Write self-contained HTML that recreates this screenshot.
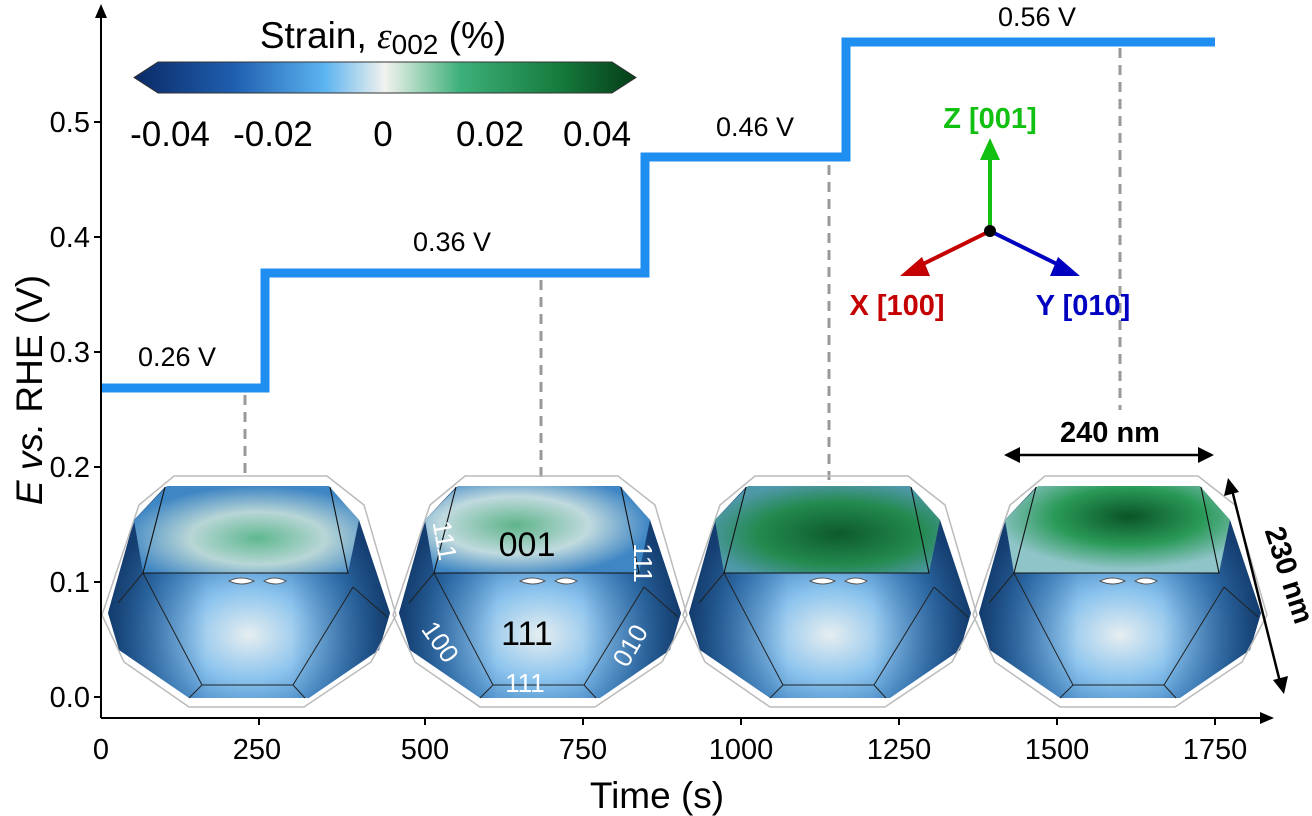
<!DOCTYPE html>
<html><head><meta charset="utf-8"><style>
body{margin:0;background:#fff}
svg{display:block;font-family:"Liberation Sans",sans-serif}
</style></head><body>
<svg width="1312" height="816" viewBox="0 0 1312 816" xmlns="http://www.w3.org/2000/svg">
<defs>
<linearGradient id="cb" x1="0" x2="1" y1="0" y2="0">
<stop offset="0" stop-color="#0b2a66"/><stop offset="0.2" stop-color="#1f5fb0"/>
<stop offset="0.38" stop-color="#5cb4f0"/><stop offset="0.5" stop-color="#f2f2ee"/>
<stop offset="0.65" stop-color="#3db07a"/><stop offset="0.85" stop-color="#157a3c"/>
<stop offset="1" stop-color="#053d18"/></linearGradient>
<radialGradient id="low" cx="0.5" cy="0.7" r="0.6">
<stop offset="0" stop-color="#e6eef0"/><stop offset="0.35" stop-color="#8cc4ee"/>
<stop offset="0.7" stop-color="#3a80c0"/><stop offset="1" stop-color="#163e72"/></radialGradient>
<linearGradient id="side" x1="0" x2="1" y1="0" y2="0">
<stop offset="0" stop-color="#0f3564" stop-opacity="0.85"/><stop offset="0.22" stop-color="#1a4a80" stop-opacity="0.3"/>
<stop offset="0.35" stop-color="#1a4a80" stop-opacity="0"/><stop offset="0.65" stop-color="#1a4a80" stop-opacity="0"/>
<stop offset="0.78" stop-color="#1a4a80" stop-opacity="0.3"/><stop offset="1" stop-color="#0f3564" stop-opacity="0.85"/></linearGradient>
<radialGradient id="topA" cx="0.55" cy="0.6" r="0.6">
<stop offset="0" stop-color="#5fb890"/><stop offset="0.5" stop-color="#b8d6d6"/><stop offset="1" stop-color="#3f86c4"/></radialGradient>
<radialGradient id="topB" cx="0.4" cy="0.45" r="0.6">
<stop offset="0" stop-color="#5eb48a"/><stop offset="0.55" stop-color="#c0dade"/><stop offset="1" stop-color="#3f86c4"/></radialGradient>
<radialGradient id="topC" cx="0.55" cy="0.55" r="0.6">
<stop offset="0" stop-color="#0d5a2c"/><stop offset="0.6" stop-color="#238a4e"/><stop offset="1" stop-color="#4f98a8"/></radialGradient>
<radialGradient id="topD" cx="0.55" cy="0.35" r="0.6">
<stop offset="0" stop-color="#0a5426"/><stop offset="0.55" stop-color="#2a9a58"/><stop offset="1" stop-color="#8fc4c8"/></radialGradient>
<g id="xt">
<polygon points="-84,487 80,487 110,520 141,613 130,650 60,698 -60,698 -130,650 -141,613 -115,520" fill="url(#low)"/>
<polygon points="-84,487 80,487 110,520 141,613 130,650 60,698 -60,698 -130,650 -141,613 -115,520" fill="url(#side)"/>
<polygon points="-75,476 78,476 115,505 147,615 122,662 55,707 -60,707 -125,662 -147,615 -110,505" fill="none" stroke="#bbb" stroke-width="1.5"/>
<g fill="none" stroke="#222" stroke-width="1">
<polyline points="-106,573 -47,685 44,685 104,587"/>
<line x1="-106" y1="573" x2="-131" y2="603"/><line x1="104" y1="587" x2="138" y2="617"/>
<line x1="-47" y1="685" x2="-60" y2="698"/><line x1="44" y1="685" x2="56" y2="698"/>
</g>
<path d="M-20,581 q12,-6 25,0 q-12,6 -25,0z M15,581 q10,-6 22,0 q-10,6 -22,0z" fill="#fff" stroke="#555" stroke-width="1"/>
</g>
</defs>
<!-- dashed -->
<g stroke="#999" stroke-width="3" stroke-dasharray="10,7">
<line x1="245" y1="395" x2="245" y2="480"/><line x1="541" y1="280" x2="541" y2="480"/>
<line x1="829" y1="165" x2="829" y2="480"/><line x1="1120" y1="48" x2="1120" y2="410"/></g>
<!-- step -->
<polyline points="101,388 265,388 265,273 645,273 645,157 846,157 846,42 1215,42" fill="none" stroke="#1e8ff0" stroke-width="9"/>
<g font-size="27" text-anchor="middle"><text x="177" y="366">0.26 V</text><text x="452" y="251">0.36 V</text><text x="755" y="136">0.46 V</text><text x="1037" y="26">0.56 V</text></g>
<!-- crystals -->
<use href="#xt" x="249"/><use href="#xt" x="540"/><use href="#xt" x="830"/><use href="#xt" x="1120"/>
<g>
<polygon points="167,486 329,486 359,520 348,573 143,573 134,520" fill="url(#topA)"/>
<polygon points="458,486 620,486 650,520 639,573 434,573 425,520" fill="url(#topB)"/>
<polygon points="748,486 910,486 940,520 929,573 724,573 715,520" fill="url(#topC)"/>
<polygon points="1038,486 1200,486 1230,520 1219,573 1014,573 1005,520" fill="url(#topD)"/>
</g>
<g stroke="#111" stroke-width="1.1" fill="none">
<polyline points="165,487 143,573 348,573 330,487"/>
<polyline points="456,487 434,573 639,573 621,487"/>
<polyline points="746,487 724,573 929,573 911,487"/>
<polyline points="1036,487 1014,573 1219,573 1201,487"/>
</g>
<g font-size="34" text-anchor="middle"><text x="527" y="556">001</text><text x="527" y="645">111</text></g>
<g font-size="26" fill="#fff" text-anchor="middle"><text x="525" y="692">111</text>
<text transform="translate(436,542) rotate(80)">111</text><text transform="translate(634,563) rotate(90)">111</text>
<text transform="translate(433,647) rotate(55)">100</text><text transform="translate(638,650) rotate(-60)">010</text></g>
<!-- axes -->
<line x1="101" y1="718" x2="101" y2="15" stroke="#000" stroke-width="2"/>
<polygon points="101,4 95,18 107,18"/>
<line x1="101" y1="718" x2="1262" y2="718" stroke="#000" stroke-width="2"/>
<polygon points="1274,718 1260,712 1260,724"/>
<g stroke="#000" stroke-width="2">
<line x1="101" y1="697" x2="94" y2="697"/><line x1="101" y1="582" x2="94" y2="582"/><line x1="101" y1="467" x2="94" y2="467"/><line x1="101" y1="352" x2="94" y2="352"/><line x1="101" y1="237" x2="94" y2="237"/><line x1="101" y1="122" x2="94" y2="122"/>
<line x1="259" y1="718" x2="259" y2="725"/><line x1="425" y1="718" x2="425" y2="725"/><line x1="583" y1="718" x2="583" y2="725"/><line x1="741" y1="718" x2="741" y2="725"/><line x1="899" y1="718" x2="899" y2="725"/><line x1="1057" y1="718" x2="1057" y2="725"/><line x1="1215" y1="718" x2="1215" y2="725"/></g>
<g font-size="29" text-anchor="end"><text x="90" y="707">0.0</text><text x="90" y="592">0.1</text><text x="90" y="477">0.2</text><text x="90" y="362">0.3</text><text x="90" y="247">0.4</text><text x="90" y="132">0.5</text></g>
<g font-size="29" text-anchor="middle"><text x="101" y="759">0</text><text x="257" y="759">250</text><text x="425" y="759">500</text><text x="583" y="759">750</text><text x="741" y="759">1000</text><text x="899" y="759">1250</text><text x="1057" y="759">1500</text><text x="1215" y="759">1750</text></g>
<text x="657" y="808" font-size="37" text-anchor="middle">Time (s)</text>
<text transform="translate(42,390) rotate(-90)" font-size="37" text-anchor="middle"><tspan font-style="italic">E vs.</tspan> RHE (V)</text>
<!-- colorbar -->
<polygon points="158,62 612,62 636,77.5 612,93 158,93 134,77.5" fill="url(#cb)" stroke="#333" stroke-width="1"/>
<text x="383" y="48" font-size="37" text-anchor="middle">Strain, <tspan font-style="italic" font-family="Liberation Serif">ε</tspan><tspan font-size="28" dy="6">002</tspan><tspan dy="-6"> (%)</tspan></text>
<g font-size="35" text-anchor="middle"><text x="170" y="146">-0.04</text><text x="273" y="146">-0.02</text><text x="383" y="146">0</text><text x="490" y="146">0.02</text><text x="597" y="146">0.04</text></g>
<!-- triad -->
<line x1="990" y1="231" x2="990" y2="158" stroke="#11c011" stroke-width="4"/><polygon points="990,138 980,160 1000,160" fill="#11c011"/>
<line x1="990" y1="231" x2="915" y2="268" stroke="#c40000" stroke-width="4"/><polygon points="900,276 922,257 930,276" fill="#c40000"/>
<line x1="990" y1="231" x2="1065" y2="268" stroke="#0000c0" stroke-width="4"/><polygon points="1080,276 1058,257 1050,276" fill="#0000c0"/>
<circle cx="990" cy="231" r="6"/>
<g font-size="29" font-weight="bold" text-anchor="middle"><text x="990" y="128" fill="#11c011">Z [001]</text><text x="897" y="315" fill="#c40000">X [100]</text><text x="1083" y="315" fill="#0000c0">Y [010]</text></g>
<!-- scale -->
<line x1="1012" y1="455" x2="1206" y2="455" stroke="#000" stroke-width="2.5"/>
<polygon points="1004,455 1020,447 1020,463"/><polygon points="1214,455 1198,447 1198,463"/>
<text x="1110" y="442" font-size="29" font-weight="bold" text-anchor="middle">240 nm</text>
<line x1="1232" y1="490" x2="1280" y2="682" stroke="#000" stroke-width="2.5"/>
<polygon points="1228,478 1224,496 1239,492"/><polygon points="1284,694 1273,680 1288,676"/>
<text transform="translate(1280,578) rotate(72)" font-size="29" font-weight="bold" text-anchor="middle">230 nm</text>
</svg>
</body></html>
